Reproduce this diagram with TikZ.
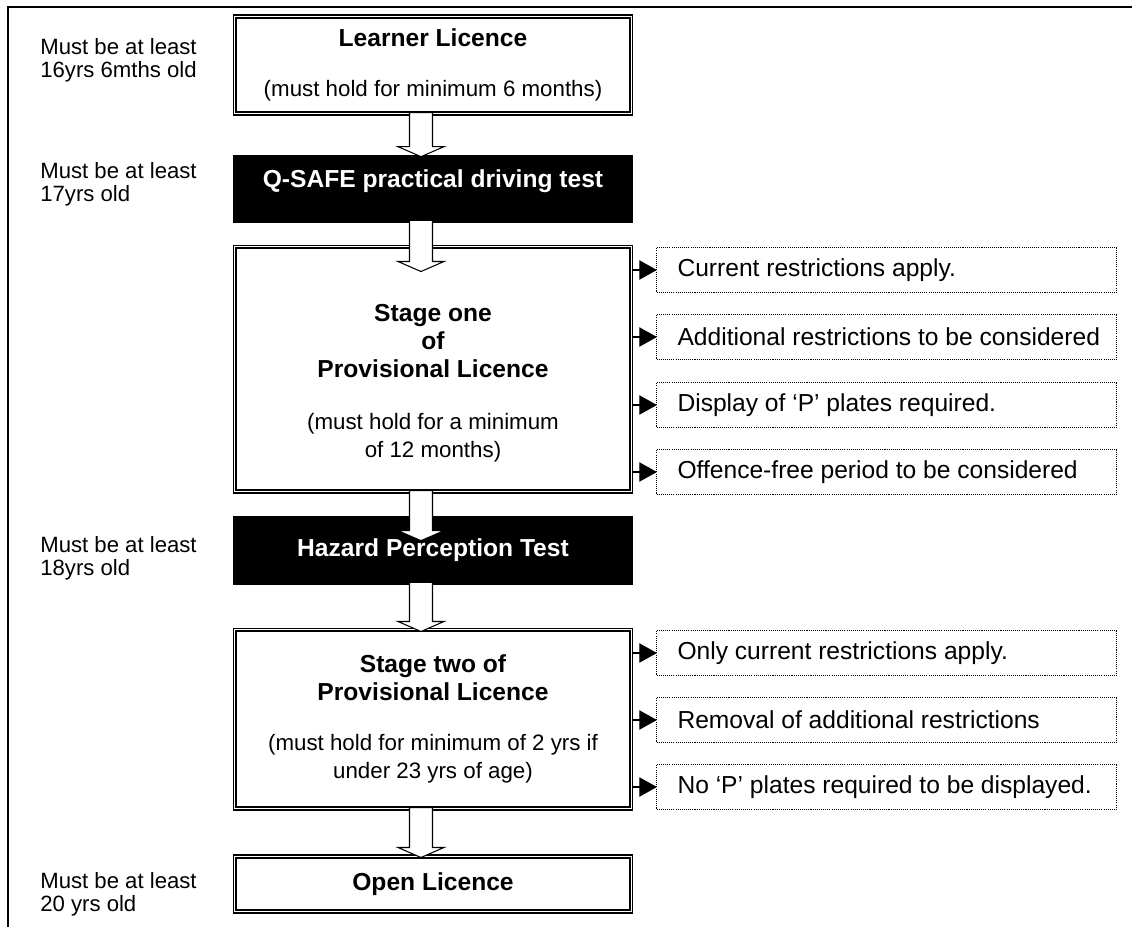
\documentclass[tikz,border=0pt]{standalone}
\usepackage{fontspec}
\setmainfont{Liberation Sans}
\usetikzlibrary{positioning}
\usetikzlibrary{arrows.meta,calc}
\newcommand{\ttlfont}{\fontsize{14}{15.9}\selectfont\bfseries}
\newcommand{\subfont}{\fontsize{12.7}{14.8}\selectfont\mdseries}
\newcommand{\agefont}{\fontsize{12.6}{13}\selectfont}
\newcommand{\cond}[1]{\makebox[8.92cm][l]{\hspace{0.28cm}#1}}
\newcommand{\blockdown}[3]{%
  \draw[blockarrow] ($(#1.south)+(-23.5,-3)$) -- ($(#1.south)+(-0.5,-3)$)
    -- ($(#1.south |- #2.north)+(-0.5,#3-10)$) -- ($(#1.south |- #2.north)+(11,#3-10)$)
    -- ($(#1.south |- #2.north)+(-12,#3)$) -- ($(#1.south |- #2.north)+(-35,#3-10)$)
    -- ($(#1.south |- #2.north)+(-23.5,#3-10)$) -- cycle;}
\tikzset{
  licence/.style={draw, line width=0.6pt, minimum width=8cm, inner sep=0pt, align=center, font=\ttlfont},
  testbox/.style={fill=black, text=white, minimum width=8cm, inner sep=0pt, font=\ttlfont},
  rulebox/.style={draw, dash pattern=on 0.6pt off 0.6pt, line width=0.6pt, anchor=west,
    minimum height=0.9cm, inner xsep=0.14cm, inner ysep=0pt,
    font=\fontsize{14}{16}\selectfont},
  agenote/.style={anchor=west, align=left, inner sep=0pt, font=\agefont},
  blockarrow/.style={draw, line width=0.6pt, fill=white},
  sidearrow/.style={-{Triangle[length=10pt,width=11pt]}, line width=0.7pt, shorten >=-0.5pt},
}
\begin{document}
\begin{tikzpicture}[x=0.02cm, y=-0.02cm]
  \useasboundingbox (0,0) rectangle (1132,927);
  \draw[line width=1.4pt] (8,927) -- (8,7) -- (1132,7);
  % licence steps and tests
  \node (learner) [licence, minimum height=2cm] at (433,65)
    {Learner Licence\\[13pt]\subfont (must hold for minimum 6 months)};
  \node (qsafe) [testbox, minimum height=1.36cm] at (433,189)
    {Q-SAFE practical driving test\rule[-12pt]{0pt}{1pt}};
  \node (stageone) [licence, minimum height=4.96cm] at (433,369)
    {\rule{0pt}{26pt}Stage one\\\ttlfont of\\\ttlfont Provisional Licence\\[13.5pt]\subfont (must hold for a minimum\\\subfont of 12 months)};
  \node (hazard) [testbox, minimum height=1.38cm] at (433,550.5) {Hazard Perception Test};
  \node (stagetwo) [licence, minimum height=3.64cm] at (433,719)
    {Stage two of\\\ttlfont Provisional Licence\\[12.5pt]\subfont (must hold for minimum of 2 yrs if\\\subfont under 23 yrs of age)};
  \node (open) [licence, minimum height=1.16cm] at (433,884) {Open Licence};
  \foreach \n in {learner,stageone,stagetwo,open}
    \draw[line width=1.2pt] ([shift={(3.2,3.2)}]\n.north west) rectangle ([shift={(-3.2,-3.2)}]\n.south east);
  % ages
  \node (agelearner) [agenote] at (40,60) {Must be at least\\16yrs 6mths old};
  \node (ageqsafe) [agenote] at (40,184) {Must be at least\\17yrs old};
  \node (agehazard) [agenote] at (40,558) {Must be at least\\18yrs old};
  \node (ageopen) [agenote] at (40,894) {Must be at least\\20 yrs old};
  % conditions
  \node (current) [rulebox] at (656,270) {\cond{Current restrictions apply.}};
  \node (extra) [rulebox] at (656,337) {\cond{Additional restrictions to be considered}};
  \node (plates) [rulebox] at (656,405) {\cond{Display of ‘P’ plates required.}};
  \node (offence) [rulebox] at (656,472) {\cond{Offence-free period to be considered}};
  \node (onlycur) [rulebox] at (656,653) {\cond{Only current restrictions apply.}};
  \node (removal) [rulebox] at (656,720) {\cond{Removal of additional restrictions}};
  \node (noplates) [rulebox] at (656,787) {\cond{No ‘P’ plates required to be displayed.}};
  \foreach \r in {current,extra,plates,offence}
    \draw[sidearrow] (stageone.east |- \r.west) -- (\r.west);
  \foreach \r in {onlycur,removal,noplates}
    \draw[sidearrow] (stagetwo.east |- \r.west) -- (\r.west);
  % block arrows
  \blockdown{learner}{qsafe}{2}
  \blockdown{qsafe}{stageone}{27}
  \blockdown{stageone}{hazard}{25}
  \blockdown{hazard}{stagetwo}{4}
  \blockdown{stagetwo}{open}{3}
\end{tikzpicture}
\end{document}
